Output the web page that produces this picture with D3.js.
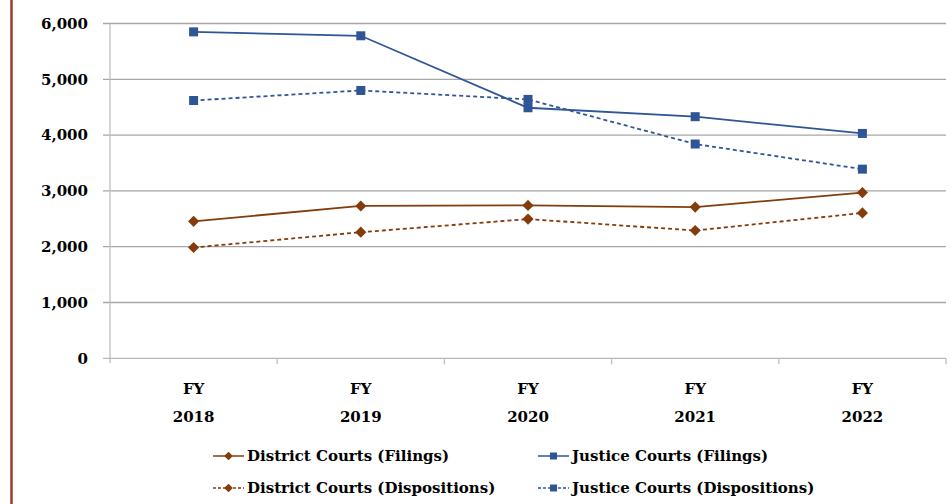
<!DOCTYPE html>
<html>
<head>
<meta charset="utf-8">
<script src="https://cdn.jsdelivr.net/npm/d3@7"></script>
<style>
  body { margin: 0; background: #fff; }
</style>
</head>
<body>
<svg id="chart" width="951" height="504" font-family="'DejaVu Serif', serif" font-weight="bold"></svg>
<script>
// data
var years = ["2018", "2019", "2020", "2021", "2022"];
var districtFilings = [2455, 2730, 2740, 2710, 2970];
var districtDispositions = [1985, 2260, 2495, 2290, 2605];
var justiceFilings = [5850, 5780, 4490, 4330, 4030];
var justiceDispositions = [4620, 4800, 4640, 3840, 3390];
var yTicks = [0, 1000, 2000, 3000, 4000, 5000, 6000];

var series = [
  {name: "District Courts (Filings)", values: districtFilings, color: "#843c0c", dash: null, marker: "diamond"},
  {name: "Justice Courts (Filings)", values: justiceFilings, color: "#2f5597", dash: null, marker: "square"},
  {name: "District Courts (Dispositions)", values: districtDispositions, color: "#843c0c", dash: "4,3", marker: "diamond"},
  {name: "Justice Courts (Dispositions)", values: justiceDispositions, color: "#2f5597", dash: "4,3", marker: "square"}
];

var margin = {top: 23.5, right: 5, bottom: 146, left: 110};
var width = 946 - margin.left,
    height = 358.3 - margin.top;

var svg = d3.select("#chart");

// dark red rule down the left edge
svg.append("line")
  .attr("x1", 11.5).attr("x2", 11.5)
  .attr("y1", 0).attr("y2", 504)
  .attr("stroke", "#9b3a2e")
  .attr("stroke-width", 2.5);

var plot = svg.append("g")
  .attr("transform", "translate(" + margin.left + "," + margin.top + ")");

var x = d3.scaleBand().domain(years).range([0, width]);
var y = d3.scaleLinear().domain([0, 6000]).range([height, 0]);

// gridlines
plot.append("g")
  .selectAll("line")
  .data(yTicks)
  .enter().append("line")
  .attr("x1", -7)
  .attr("x2", width)
  .attr("y1", function(d) { return y(d); })
  .attr("y2", function(d) { return y(d); })
  .attr("stroke", function(d) { return d === 0 ? "#b8b8b8" : "#a6a6a6"; })
  .attr("stroke-width", 1.3);

// y axis line
plot.append("line")
  .attr("x1", 0).attr("x2", 0)
  .attr("y1", 0).attr("y2", height + 5)
  .attr("stroke", "#bfbfbf")
  .attr("stroke-width", 1.3);

// y labels
plot.append("g")
  .selectAll("text")
  .data(yTicks)
  .enter().append("text")
  .attr("x", -22)
  .attr("y", function(d) { return y(d); })
  .attr("dy", "0.35em")
  .attr("text-anchor", "end")
  .style("font-size", "15px")
  .text(function(d) { return d3.format(",")(d); });

// x ticks at band edges
var edges = years.map(function(d) { return x(d); }).concat([width]);
plot.append("g")
  .selectAll("line")
  .data(edges.slice(1))
  .enter().append("line")
  .attr("x1", function(d) { return d; })
  .attr("x2", function(d) { return d; })
  .attr("y1", height)
  .attr("y2", height + 6)
  .attr("stroke", "#bfbfbf")
  .attr("stroke-width", 1.3);

// x labels
var xl = plot.append("g")
  .selectAll("text")
  .data(years)
  .enter().append("text")
  .attr("x", function(d) { return x(d) + x.bandwidth() / 2; })
  .attr("text-anchor", "middle")
  .style("font-size", "15px");
xl.append("tspan").attr("x", function(d) { return x(d) + x.bandwidth() / 2; }).attr("y", height + 36).text("FY");
xl.append("tspan").attr("x", function(d) { return x(d) + x.bandwidth() / 2; }).attr("y", height + 64).text(function(d) { return d; });

var line = d3.line()
  .x(function(d, i) { return x(years[i]) + x.bandwidth() / 2; })
  .y(function(d) { return y(d); });

function drawMarker(g, s, cx, cy, size) {
  if (s.marker === "square") {
    g.append("rect")
      .attr("x", cx - size / 2).attr("y", cy - size / 2)
      .attr("width", size).attr("height", size)
      .attr("fill", s.color);
  } else {
    var r = size * 0.62;
    g.append("path")
      .attr("d", "M" + cx + "," + (cy - r) + "L" + (cx + r) + "," + cy + "L" + cx + "," + (cy + r) + "L" + (cx - r) + "," + cy + "Z")
      .attr("fill", s.color);
  }
}

// draw order: district first, justice on top
[0, 2, 3, 1].forEach(function(k) {
  var s = series[k];
  plot.append("path")
    .datum(s.values)
    .attr("fill", "none")
    .attr("stroke", s.color)
    .attr("stroke-width", 1.8)
    .attr("stroke-dasharray", s.dash)
    .attr("d", line);
  var mg = plot.append("g");
  s.values.forEach(function(v, i) {
    drawMarker(mg, s, x(years[i]) + x.bandwidth() / 2, y(v), 9);
  });
});

// legend
var legendPos = [[213, 456], [538, 456], [213, 488], [538, 488]];
series.forEach(function(s, i) {
  var lg = svg.append("g").attr("transform", "translate(" + legendPos[i][0] + "," + legendPos[i][1] + ")");
  lg.append("line")
    .attr("x1", 0).attr("x2", 31)
    .attr("y1", 0).attr("y2", 0)
    .attr("stroke", s.color)
    .attr("stroke-width", 1.5)
    .attr("stroke-dasharray", s.dash ? "3,2" : null);
  drawMarker(lg, s, 15.5, 0, 7);
  lg.append("text")
    .attr("x", 34)
    .attr("y", 0)
    .attr("dy", "0.35em")
    .style("font-size", "15px")
    .text(s.name);
});
</script>
</body>
</html>
